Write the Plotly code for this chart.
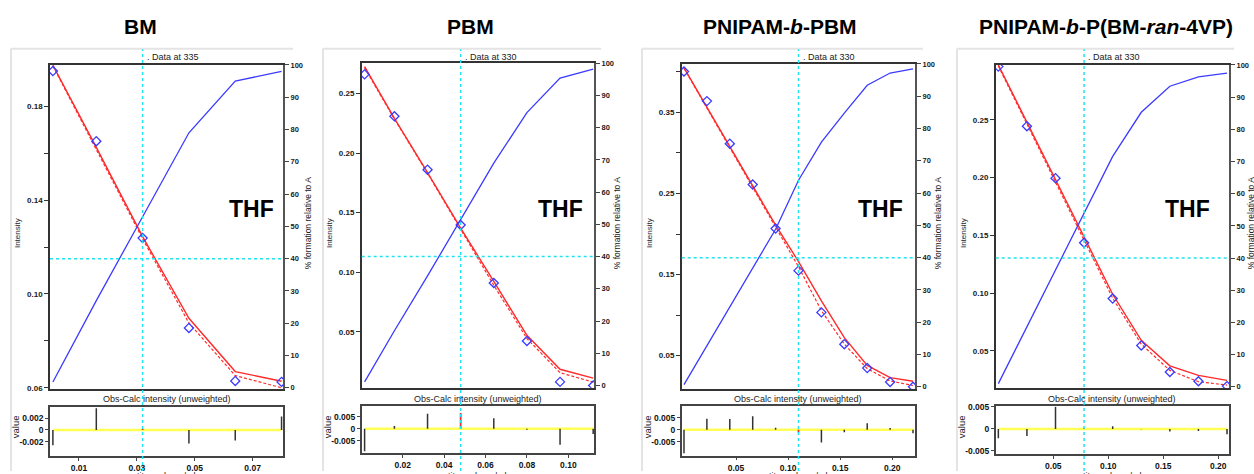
import plotly.graph_objects as go

W, H = 1254, 474

# ---------------- data ----------------
panel_titles = ["<b>BM</b>", "<b>PBM</b>", "<b>PNIPAM-<i>b</i>-PBM</b>",
                "<b>PNIPAM-<i>b</i>-P(BM-<i>ran</i>-4VP)</b>"]
data_labels = [". Data at 335", ". Data at 330", ". Data at 330", ". Data at 330"]

BM_titre = [0.001, 0.016, 0.032, 0.048, 0.064, 0.080]
BM_obs = [0.195, 0.1651, 0.1238, 0.0855, 0.0629, 0.0625]
BM_calc = [0.1975, 0.1625, 0.1244, 0.0896, 0.0669, 0.0628]
BM_calc_b = [0.1972, 0.1618, 0.1235, 0.0876, 0.0652, 0.0600]
BM_pct = [1.8, 27.0, 53.0, 79.0, 95.0, 98.0]
BM_resid = [-0.0026, 0.0037, 0.0002, -0.0023, -0.0018, 0.0023]
BM_sel = 2

PBM_titre = [0.0016, 0.016, 0.032, 0.048, 0.064, 0.080, 0.096, 0.112]
PBM_obs = [0.266, 0.2308, 0.186, 0.1396, 0.0909, 0.0422, 0.0079, 0.0049]
PBM_calc = [0.2725, 0.229, 0.1835, 0.137, 0.0922, 0.047, 0.0185, 0.0111]
PBM_calc_b = [0.2715, 0.2285, 0.183, 0.1355, 0.089, 0.0443, 0.0156, 0.0077]
PBM_pct = [1.1, 17.0, 34.0, 51.6, 69.0, 84.7, 95.4, 98.2]
PBM_resid = [-0.0093, 0.0011, 0.0062, 0.0065, 0.0043, -0.0004, -0.0066, -0.0022]
PBM_sel = 3

PNB_titre = [0.0, 0.022, 0.044, 0.066, 0.088, 0.110, 0.132, 0.154, 0.176, 0.198, 0.220]
PNB_obs = [0.4005, 0.364, 0.3115, 0.2611, 0.2068, 0.1549, 0.1034, 0.0642, 0.0347, 0.0176, 0.0116]
PNB_calc = [0.405, 0.3565, 0.308, 0.2595, 0.211, 0.1661, 0.1176, 0.0723, 0.0379, 0.0229, 0.0185]
PNB_calc_b = [0.4045, 0.3555, 0.306, 0.2565, 0.207, 0.1597, 0.1055, 0.0643, 0.034, 0.0188, 0.0132]
PNB_pct = [0.7, 12.7, 24.7, 36.8, 48.8, 64.0, 75.8, 84.8, 93.4, 97.2, 98.5]
PNB_resid = [-0.0098, 0.0046, 0.0045, 0.0056, 0.0008, -0.0012, -0.0053, -0.0011, 0.0027, 0.0007, -0.0015]
PNB_sel = 5

PNR_titre = [0.0, 0.026, 0.052, 0.078, 0.104, 0.130, 0.156, 0.182, 0.208]
PNR_obs = [0.296, 0.2444, 0.1994, 0.1435, 0.0952, 0.0546, 0.0316, 0.0236, 0.0194]
PNR_calc = [0.2974, 0.2475, 0.1975, 0.1476, 0.0989, 0.059, 0.0369, 0.0287, 0.0244]
PNR_calc_b = [0.2965, 0.2465, 0.196, 0.1455, 0.0955, 0.0557, 0.033, 0.0232, 0.0203]
PNR_pct = [1.0, 18.6, 36.1, 53.7, 71.6, 85.3, 93.4, 96.3, 97.5]
PNR_resid = [-0.0021, -0.0016, 0.005, 0.0002, 0.0006, -0.0001, -0.0006, -0.0005, -0.0012]
PNR_sel = 3

# tick definitions
BM_yticks = [0.06, 0.08, 0.10, 0.12, 0.14, 0.16, 0.18]
BM_ytext = ["0.06", "", "0.10", "", "0.14", "", "0.18"]
PBM_yticks = [0.05, 0.10, 0.15, 0.20, 0.25]
PBM_ytext = ["0.05", "0.10", "0.15", "0.20", "0.25"]
PNB_yticks = [0.05, 0.10, 0.15, 0.20, 0.25, 0.30, 0.35, 0.40]
PNB_ytext = ["0.05", "", "0.15", "", "0.25", "", "0.35", ""]
PNR_yticks = [0.05, 0.10, 0.15, 0.20, 0.25]
PNR_ytext = ["0.05", "0.10", "0.15", "0.20", "0.25"]

BM_xticks = [0.01, 0.03, 0.05, 0.07]
BM_xtext = ["0.01", "0.03", "0.05", "0.07"]
PBM_xticks = [0.02, 0.04, 0.06, 0.08, 0.10]
PBM_xtext = ["0.02", "0.04", "0.06", "0.08", "0.10"]
PNB_xticks = [0.05, 0.10, 0.15, 0.20]
PNB_xtext = ["0.05", "0.10", "0.15", "0.20"]
PNR_xticks = [0.05, 0.10, 0.15, 0.20]
PNR_xtext = ["0.05", "0.10", "0.15", "0.20"]

BM_rticks, BM_rtext = [-0.002, 0, 0.002], ["-0.002", "0", "0.002"]
P5_rticks, P5_rtext = [-0.005, 0, 0.005], ["-0.005", "0", "0.005"]

pct_ticks = [0, 10, 20, 30, 40, 50, 60, 70, 80, 90, 100]
cross_pct = 40

# ---------------- layout geometry (pixels) ----------------
panels = [
    dict(titre=BM_titre, obs=BM_obs, calc=BM_calc, calcb=BM_calc_b, pct=BM_pct, res=BM_resid, sel=BM_sel,
         yt=BM_yticks, ytt=BM_ytext, xt=BM_xticks, xtt=BM_xtext, rt=BM_rticks, rtt=BM_rtext,
         L=50, R=283, T=61, B=391, rT=409, rB=459,
         xr=[0.0, 0.0805], yr=[0.0593, 0.1976], pr=[-0.5, 100], rr=[-0.00445, 0.00388],
         title_x=140, thf_x=251, int_x=17, pf_x=308, frame=(11, 313)),
    dict(titre=PBM_titre, obs=PBM_obs, calc=PBM_calc, calcb=PBM_calc_b, pct=PBM_pct, res=PBM_resid, sel=PBM_sel,
         yt=PBM_yticks, ytt=PBM_ytext, xt=PBM_xticks, xtt=PBM_xtext, rt=P5_rticks, rtt=P5_rtext,
         L=361.7, R=594, T=59.3, B=389.3, rT=407.7, rB=456,
         xr=[0.0002, 0.1124], yr=[0.003, 0.2753], pr=[-0.7, 100], rr=[-0.0102, 0.0095],
         title_x=470, thf_x=560, int_x=329, pf_x=617, frame=(323, 621)),
    dict(titre=PNB_titre, obs=PNB_obs, calc=PNB_calc, calcb=PNB_calc_b, pct=PNB_pct, res=PNB_resid, sel=PNB_sel,
         yt=PNB_yticks, ytt=PNB_ytext, xt=PNB_xticks, xtt=PNB_xtext, rt=P5_rticks, rtt=P5_rtext,
         L=681.7, R=915, T=60, B=391, rT=408.3, rB=458.3,
         xr=[-0.0022, 0.2219], yr=[0.0084, 0.4098], pr=[-0.8, 100], rr=[-0.0108, 0.0097],
         title_x=780, thf_x=880, int_x=649, pf_x=938, frame=(642, 943)),
    dict(titre=PNR_titre, obs=PNR_obs, calc=PNR_calc, calcb=PNR_calc_b, pct=PNR_pct, res=PNR_resid, sel=PNR_sel,
         yt=PNR_yticks, ytt=PNR_ytext, xt=PNR_xticks, xtt=PNR_xtext, rt=P5_rticks, rtt=P5_rtext,
         L=995.7, R=1229, T=61, B=390, rT=408.3, rB=456.7,
         xr=[-0.0024, 0.2098], yr=[0.0174, 0.2974], pr=[-0.5, 100], rr=[-0.0057, 0.0051],
         title_x=1106, thf_x=1187, int_x=963, pf_x=1251, frame=(957, 1254)),
]


def px(x):
    return x / W


def py(y):
    return 1 - y / H


FONT = "Liberation Sans, Arial, sans-serif"
RED = "#ff2a2a"
BLUE = "#3b3bff"
CYAN = "#1fe3ee"
AXC = "#333333"

fig = go.Figure()
layout = dict(width=W, height=H, margin=dict(l=0, r=0, t=0, b=0),
              paper_bgcolor="white", plot_bgcolor="rgba(0,0,0,0)",
              showlegend=False, font=dict(family=FONT, color="#222"))
annotations = []
shapes = []

for i, p in enumerate(panels):
    xm, xs = 2 * i + 1, 2 * i + 2
    yl, yrt, ys = 3 * i + 1, 3 * i + 2, 3 * i + 3
    xm_n = "x" if xm == 1 else f"x{xm}"
    xs_n = f"x{xs}"
    yl_n = "y" if yl == 1 else f"y{yl}"
    yr_n = f"y{yrt}"
    ys_n = f"y{ys}"

    dom_x = [px(p["L"]), px(p["R"])]
    layout["xaxis" if xm == 1 else f"xaxis{xm}"] = dict(
        domain=dom_x, range=p["xr"], anchor=yl_n, showgrid=False, zeroline=False,
        showticklabels=False, ticks="", showline=True, mirror=True, linecolor=AXC, linewidth=1.5)
    layout["yaxis" if yl == 1 else f"yaxis{yl}"] = dict(
        domain=[py(p["B"]), py(p["T"])], range=p["yr"], anchor=xm_n, showgrid=False, zeroline=False,
        tickvals=p["yt"], ticktext=p["ytt"], ticks="outside", ticklen=4, tickcolor=AXC,
        tickfont=dict(size=8, color="#1a1a1a", weight="bold"), showline=True, mirror=True,
        linecolor=AXC, linewidth=1.5)
    layout[f"yaxis{yrt}"] = dict(
        range=p["pr"], anchor=xm_n, overlaying=yl_n, side="right", showgrid=False, zeroline=False,
        tickvals=pct_ticks, ticks="outside", ticklen=4, tickcolor="#444",
        tickfont=dict(size=7.5, color="#1a1a1a", weight="bold"), showline=True, linecolor="#555", linewidth=2)
    layout[f"xaxis{xs}"] = dict(
        domain=dom_x, range=p["xr"], anchor=ys_n, showgrid=False, zeroline=False,
        tickvals=p["xt"], ticktext=p["xtt"], ticks="outside", ticklen=3, tickcolor="#444",
        tickfont=dict(size=8.5, color="#111", weight="bold"), showline=True, mirror=True,
        linecolor="#444", linewidth=1.5)
    layout[f"yaxis{ys}"] = dict(
        domain=[py(p["rB"]), py(p["rT"])], range=p["rr"], anchor=xs_n, showgrid=False, zeroline=False,
        tickvals=p["rt"], ticktext=p["rtt"], ticks="outside", ticklen=3, tickcolor="#444",
        tickfont=dict(size=8.5, color="#111", weight="bold"), showline=True, mirror=True,
        linecolor="#444", linewidth=1.5)

    t = p["titre"]
    # % formation (right axis)
    fig.add_trace(go.Scatter(x=t, y=p["pct"], xaxis=xm_n, yaxis=yr_n, mode="lines",
                             line=dict(color=BLUE, width=1.3), hoverinfo="skip"))
    # calculated intensities
    fig.add_trace(go.Scatter(x=t, y=p["calc"], xaxis=xm_n, yaxis=yl_n, mode="lines",
                             line=dict(color=RED, width=1.4), hoverinfo="skip"))
    fig.add_trace(go.Scatter(x=t, y=p["calcb"], xaxis=xm_n, yaxis=yl_n, mode="lines",
                             line=dict(color=RED, width=1.2, dash="3px,2px"), hoverinfo="skip"))
    # observed
    fig.add_trace(go.Scatter(x=t, y=p["obs"], xaxis=xm_n, yaxis=yl_n, mode="markers",
                             marker=dict(symbol="diamond-open", size=7, color=BLUE, line=dict(width=1.3)),
                             hoverinfo="skip"))
    # residuals
    fig.add_trace(go.Scatter(x=[t[0], t[-1]], y=[0, 0], xaxis=xs_n, yaxis=ys_n, mode="lines",
                             line=dict(color="#ffff55", width=2.5), hoverinfo="skip"))
    rx, ry = [], []
    for j, (xv, rv) in enumerate(zip(t, p["res"])):
        if j == p["sel"]:
            continue
        rx += [xv, xv, None]
        ry += [0, rv, None]
    fig.add_trace(go.Scatter(x=rx, y=ry, xaxis=xs_n, yaxis=ys_n, mode="lines",
                             line=dict(color="#333", width=1.5), hoverinfo="skip"))
    s = p["sel"]
    fig.add_trace(go.Scatter(x=[t[s], t[s]], y=[0, p["res"][s]], xaxis=xs_n, yaxis=ys_n, mode="lines",
                             line=dict(color="#e83030", width=1.8), hoverinfo="skip"))

    # cyan cursor lines
    shapes.append(dict(type="line", xref=xm_n, yref="paper", x0=t[s], x1=t[s], y0=0, y1=py(45),
                       line=dict(color=CYAN, width=1.5, dash="dot"), layer="above"))
    shapes.append(dict(type="line", xref=f"{xm_n} domain", yref=yr_n, x0=0, x1=1, y0=cross_pct, y1=cross_pct,
                       line=dict(color=CYAN, width=1.5, dash="dot"), layer="above"))

    # panel frames (screenshot borders)
    fl, fr = p["frame"]
    shapes.append(dict(type="line", xref="paper", yref="paper", x0=px(fl), x1=px(fr - 20), y0=py(44.5), y1=py(44.5),
                       line=dict(color="#e4e4e4", width=2), layer="below"))
    shapes.append(dict(type="line", xref="paper", yref="paper", x0=px(fl), x1=px(fl), y0=0, y1=py(44.5),
                       line=dict(color="#e4e4e4", width=2), layer="below"))

    cx = (p["L"] + p["R"]) / 2
    annotations += [
        dict(text=panel_titles[i], x=px(p["title_x"]), y=py(22), xref="paper", yref="paper",
             showarrow=False, font=dict(size=21, color="black", family=FONT), xanchor="center", yanchor="middle"),
        dict(text="<b>THF</b>", x=px(p["thf_x"]), y=py(207), xref="paper", yref="paper",
             showarrow=False, font=dict(size=23, color="black", family=FONT), xanchor="center", yanchor="middle"),
        dict(text=data_labels[i], x=t[s], y=py(52.5), xref=xm_n, yref="paper", xshift=2,
             showarrow=False, font=dict(size=9, color="#222"), xanchor="left", yanchor="middle"),
        dict(text="Intensity", x=px(p["int_x"]), y=py(232), xref="paper", yref="paper", textangle=-90,
             showarrow=False, font=dict(size=8, color="#222"), xanchor="center", yanchor="middle"),
        dict(text="% formation relative to A", x=px(p["pf_x"]), y=py(222), xref="paper", yref="paper",
             textangle=-90, showarrow=False, font=dict(size=8.5, color="#222"), xanchor="center", yanchor="middle"),
        dict(text="Obs-Calc intensity (unweighted)", x=px(cx), y=py(400.5), xref="paper", yref="paper",
             showarrow=False, font=dict(size=9, color="#222"), xanchor="center", yanchor="middle"),
        dict(text="value", x=px(p["int_x"] - 1.5), y=py(429), xref="paper", yref="paper", textangle=-90,
             showarrow=False, font=dict(size=9.5, color="#222"), xanchor="center", yanchor="middle"),
        dict(text="titre volume/ml", x=px(cx), y=py(471.5), xref="paper", yref="paper",
             showarrow=False, font=dict(size=9, color="#222"), xanchor="center", yanchor="top"),
    ]

layout["annotations"] = annotations
layout["shapes"] = shapes
fig.update_layout(**layout)
fig.write_html("out.html")
